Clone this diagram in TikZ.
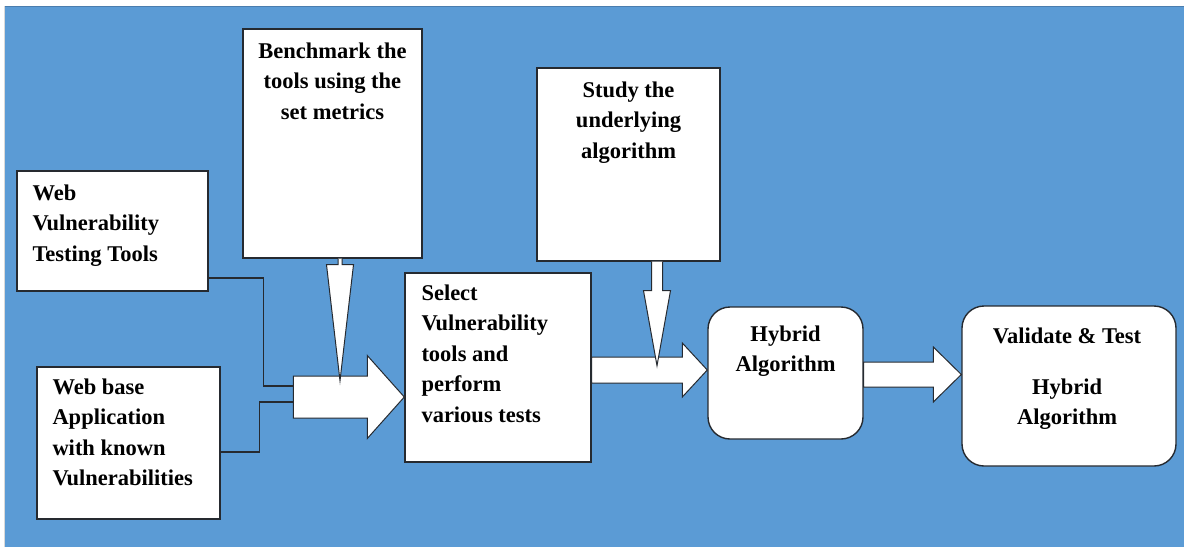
\documentclass[tikz,border=0pt]{standalone}
\usepackage{fontspec}
\setmainfont{Liberation Serif}
\usetikzlibrary{calc}

\definecolor{panelblue}{HTML}{5B9BD5}
\definecolor{paneledge}{HTML}{4A7DAE}
\definecolor{inkline}{HTML}{262A30}

% block arrow: tail, tip, half body height, half head height, head length
\newcommand\flowarrow[5]{%
  \draw[blockarrow]
    ($(#1)+(0,-#3)$) -- ($(#2)+(-#5,-#3)$) -- ($(#2)+(-#5,-#4)$) -- (#2)
    -- ($(#2)+(-#5,#4)$) -- ($(#2)+(-#5,#3)$) -- ($(#1)+(0,#3)$) -- cycle;}

% downward pointer: box, x offset from its south, stem half width,
% stem length, head half width, tip distance below the box
\newcommand\dropper[6]{%
  \filldraw[pointer]
    ($(#1.south)+(#2-#3,0)$) -- ($(#1.south)+(#2-#3,#4)$)
    -- ($(#1.south)+(#2-#5,#4)$) -- ($(#1.south)+(#2,#6)$)
    -- ($(#1.south)+(#2+#5,#4)$) -- ($(#1.south)+(#2+#3,#4)$)
    -- ($(#1.south)+(#2+#3,0)$);}

\tikzset{
  box/.style={draw=inkline, line width=1.4pt, fill=white, inner sep=0pt},
  roundbox/.style={box, rounded corners=22pt},
  txt/.style={inner sep=0pt, font=\bfseries\fontsize{22.5}{30.5}\selectfont, text=black},
  blockarrow/.style={draw=inkline, line width=1pt, fill=white, line join=miter},
  pointer/.style={draw=inkline, line width=1pt, fill=white},
  link/.style={draw=inkline, line width=1.3pt},
}

\begin{document}
\begin{tikzpicture}[x=1pt, y=-1pt]
  \useasboundingbox (0,0) rectangle (1184,547);
  % panel
  \fill[white] (0,0) rectangle (1184,547);
  \fill[panelblue] (5,6) rectangle (1184,547);
  \draw[paneledge, line width=1.2pt] (5,6.5) -- (1184,6.5);
  \draw[black!15, line width=1pt] (4.5,6) -- (4.5,547);

  % boxes
  \node[box, minimum width=191pt, minimum height=120pt] (wvt) at (112.5,231) {};
  \node[box, minimum width=183pt, minimum height=152pt] (wba) at (128.5,443) {};
  \node[box, minimum width=179pt, minimum height=229pt] (bench) at (332.5,143.5) {};
  \node[box, minimum width=183pt, minimum height=193pt] (study) at (628.5,164.5) {};
  \node[box, minimum width=186pt, minimum height=189pt] (sel) at (498,367.5) {};
  \node[roundbox, minimum width=155pt, minimum height=132pt] (hyb) at (785.5,373) {};
  \node[roundbox, minimum width=214pt, minimum height=160pt] (val) at (1069,386) {};

  % texts
  \node[txt, anchor=north west, align=left] (wvtT) at ($(wvt.north west)+(16,14)$)
    {Web\\Vulnerability\\Testing Tools};
  \node[txt, anchor=north west, align=left] (wbaT) at ($(wba.north west)+(16,12)$)
    {Web base\\Application\\with known\\Vulnerabilities};
  \node[txt, anchor=north, align=center] (benchT) at ($(bench.north)+(0,14)$)
    {Benchmark the\\tools using the\\set metrics};
  \node[txt, anchor=north, align=center] (studyT) at ($(study.north)+(0,14)$)
    {Study the\\underlying\\algorithm};
  \node[txt, anchor=north west, align=left] (selT) at ($(sel.north west)+(17,12)$)
    {Select\\Vulnerability\\tools and\\perform\\various tests};
  \node[txt, anchor=north, align=center] (hybT) at ($(hyb.north)+(0,19)$)
    {Hybrid\\Algorithm};
  \node[txt, anchor=north, align=center] (valT) at ($(val.north)+(-2,22)$)
    {Validate \& Test\\[20.5pt]Hybrid\\Algorithm};

  % arrow tails and tips
  \coordinate (j1) at ($(sel.west)+(-111,29.5)$);
  \coordinate (t1) at ($(sel.west)+(0,29.5)$);
  \coordinate (j2) at ($(sel.east)+(0,2.5)$);
  \coordinate (t2) at ($(hyb.west)+(0,-3)$);
  \coordinate (j3) at ($(hyb.east)+(0,1.5)$);
  \coordinate (t3) at ($(val.west)+(0,-11.5)$);

  % inputs joining the first arrow
  \draw[link] ($(wvt.east)+(0,47)$) -| ($(j1)+(-30,-11)$) -- ($(j1)+(0,-11)$);
  \draw[link] ($(wba.east)+(0,9)$) -| ($(j1)+(-34,5)$) -- ($(j1)+(0,5)$);

  % block arrows
  \flowarrow{j1}{t1}{21}{41.5}{37}
  \flowarrow{j2}{t2}{13}{27}{25}
  \flowarrow{j3}{t3}{12.5}{27.5}{28}

  % pointers from the upper boxes
  \dropper{bench}{7.5}{2}{6}{13.5}{122}
  \dropper{study}{28.5}{5.5}{29}{13.5}{104}
\end{tikzpicture}
\end{document}
